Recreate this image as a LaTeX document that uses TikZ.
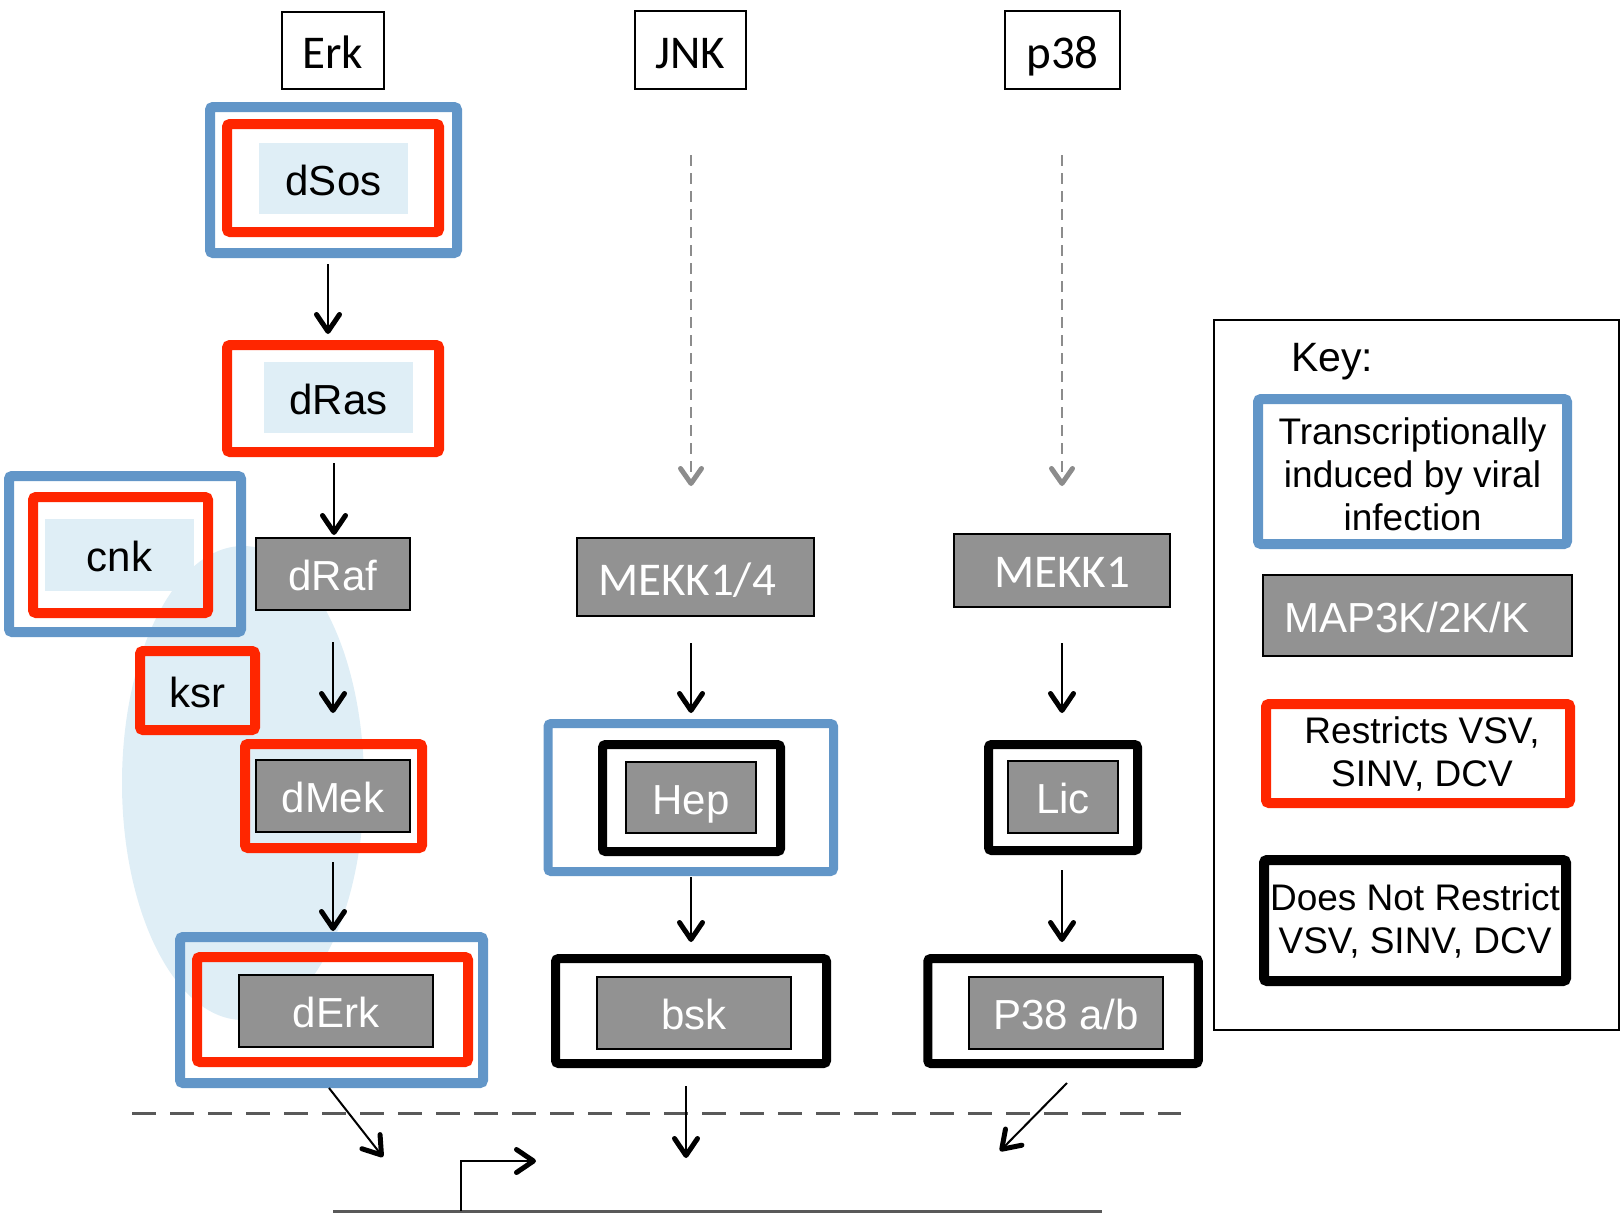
\documentclass[tikz,border=0pt]{standalone}
\usepackage{fontspec}
\setmainfont{Liberation Sans}
\newfontfamily\calib{Carlito}
\usetikzlibrary{arrows.meta}
\definecolor{kblue}{RGB}{98,150,200}
\definecolor{kred}{RGB}{255,38,0}
\definecolor{kgray}{RGB}{146,146,146}
\definecolor{klb}{RGB}{223,238,246}
\definecolor{kdash}{RGB}{140,140,140}
\definecolor{kmem}{RGB}{89,89,89}
\begin{document}
\begin{tikzpicture}[x=0.5pt,y=-0.5pt,
  box/.style={rectangle, inner sep=0pt, outer sep=0pt},
  bluebox/.style={box, draw=kblue, line width=5pt, rounded corners=1.5pt},
  redbox/.style={box, draw=kred, line width=5pt, rounded corners=1.5pt},
  blkbox/.style={box, draw=black, line width=4.5pt, rounded corners=1.5pt},
  arialtxt/.style={font=\fontsize{21pt}{25pt}\selectfont, text height=19.5pt, text depth=3pt},
  calibtxt/.style={font=\calib\fontsize{23.5pt}{28pt}\selectfont, text height=21pt, text depth=3pt},
  graybox/.style={box, fill=kgray, draw=black, line width=0.8pt, text=white, arialtxt},
  lbbox/.style={box, fill=klb, arialtxt},
  header/.style={box, draw=black, line width=0.8pt, calibtxt},
  keytext/.style={align=center, font=\fontsize{18.5pt}{21.5pt}\selectfont},
  arr/.style={line width=1pt, -{Straight Barb[length=8.5pt, width=11.5pt, line width=2.5pt 0, round]}},
  darr/.style={draw=kdash, line width=1.4pt, dash pattern=on 5.5pt off 3.5pt, -{Straight Barb[length=7.5pt, width=10.5pt, line width=2.5pt 0, round]}}
]
\useasboundingbox (0,0) rectangle (1622,1216);

% scaffold ellipse
\fill[klb] (243,783) ellipse [x radius=60.5pt, y radius=118.5pt];

% headers
\node[header, minimum width=51pt, minimum height=38.5pt] (Erk) at (333,50.5) {Erk};
\node[header, minimum width=55.5pt, minimum height=39pt] (JNK) at (690.5,50) {JNK};
\node[header, minimum width=57.5pt, minimum height=39pt] (p38) at (1062.5,50) {p38};

% Erk column
\node[bluebox, minimum width=123.5pt, minimum height=73pt] (dSosB) at (333.5,180) {};
\node[redbox, minimum width=106pt, minimum height=54pt] (dSosR) at (333,178) {};
\node[lbbox, minimum width=74.5pt, minimum height=35.5pt] (dSos) at (333.5,178.5) {dSos};

\node[redbox, minimum width=106pt, minimum height=53.5pt] (dRasR) at (333,398.5) {};
\node[lbbox, minimum width=74.5pt, minimum height=35.5pt] (dRas) at (338.5,397.5) {dRas};

\node[graybox, minimum width=77pt, minimum height=36pt] (dRaf) at (333,574) {dRaf};

\node[bluebox, minimum width=116pt, minimum height=78pt] (cnkB) at (125,554) {};
\node[redbox, minimum width=87.5pt, minimum height=58pt] (cnkR) at (120.5,555) {};
\node[lbbox, minimum width=74.5pt, minimum height=36pt] (cnk) at (119.5,555) {cnk};

\node[redbox, minimum width=57.5pt, minimum height=39.5pt, arialtxt] (ksr) at (197.5,690.5) {ksr};

\node[redbox, minimum width=88.5pt, minimum height=52pt] (dMekR) at (333.5,796) {};
\node[graybox, minimum width=77pt, minimum height=36pt] (dMek) at (333,796) {dMek};

\node[bluebox, minimum width=151.5pt, minimum height=73pt] (dErkB) at (331.5,1010) {};
\node[redbox, minimum width=135.5pt, minimum height=52.5pt] (dErkR) at (332.5,1009.5) {};
\node[graybox, minimum width=97pt, minimum height=36pt] (dErk) at (336,1011) {dErk};

% JNK column
\node[graybox, minimum width=118.5pt, minimum height=39pt, calibtxt] (MEKK14) at (695.5,577) {MEKK1/4\hspace*{8.5pt}};
\node[bluebox, line width=4.5pt, minimum width=142.75pt, minimum height=74pt] (HepB) at (690.75,797.5) {};
\node[blkbox, minimum width=89pt, minimum height=53.5pt] (HepK) at (691.5,798) {};
\node[graybox, minimum width=65pt, minimum height=35.5pt] (Hep) at (691,797.5) {Hep};
\node[blkbox, minimum width=135.5pt, minimum height=52.5pt] (bskK) at (691,1011) {};
\node[graybox, minimum width=97pt, minimum height=36pt] (bsk) at (694,1013) {bsk};

% p38 column
\node[graybox, minimum width=108pt, minimum height=36.5pt, calibtxt, text height=20pt] (MEKK1) at (1062,570.5) {MEKK1};
\node[blkbox, minimum width=74.5pt, minimum height=53pt] (LicK) at (1063,797.5) {};
\node[graybox, minimum width=55pt, minimum height=36pt] (Lic) at (1063,797) {Lic};
\node[blkbox, minimum width=135.25pt, minimum height=52.5pt] (P38K) at (1063,1011) {};
\node[graybox, minimum width=97pt, minimum height=36pt] (P38) at (1066,1013) {P38 a/b};

% arrows Erk
\draw[arr] ([shift={(-5.5,11)}]dSosB.south) -- ([shift={(-5,-11)}]dRasR.north);
\draw[arr] ([shift={(1,11)}]dRasR.south) -- ([shift={(1,-3)}]dRaf.north);
\draw[arr] ([shift={(0,32)}]dRaf.south) -- ([shift={(-0.5,-31)}]dMekR.north);
\draw[arr] ([shift={(0,14)}]dMek.south |- dMekR.south) -- ([shift={(1.5,-6)}]dErkB.north);

% arrows JNK / p38
\draw[darr] ([shift={(0.5,66)}]JNK.south) -- ([shift={(-4.5,-52)}]MEKK14.north);
\draw[darr] ([shift={(-0.5,66)}]p38.south) -- ([shift={(0,-48)}]MEKK1.north);
\draw[arr] ([shift={(-4.5,27)}]MEKK14.south) -- ([shift={(0.25,-10.5)}]HepB.north);
\draw[arr] ([shift={(0.25,5.5)}]HepB.south) -- ([shift={(0,-16.5)}]bskK.north);
\draw[arr] ([shift={(0,36)}]MEKK1.south) -- ([shift={(-1,-31.5)}]LicK.north);
\draw[arr] ([shift={(-1,19.5)}]LicK.south) -- ([shift={(-1,-16.5)}]P38K.north);

% membrane, DNA, promoter
\coordinate (memL) at (132,1113);
\coordinate (memR) at (1181,1113);
\draw[kmem, line width=1.5pt, dash pattern=on 12pt off 7pt] (memL) -- (memR);
\coordinate (dnaL) at (333,1211);
\coordinate (dnaR) at (1102,1211);
\draw[kmem, line width=1.5pt] (dnaL) -- (dnaR);
\coordinate (prom) at (461,1211);
\coordinate (promEnd) at (536,1161);
\draw[arr] (prom) |- (promEnd);

% nuclear arrows
\coordinate (nErk) at (383,1157);
\coordinate (nJNK) at (686,1158);
\coordinate (nP38) at (1000,1151);
\draw[arr] ([shift={(-2.5,5)}]dErkB.south) -- (nErk);
\draw[arr] ([shift={(-5,22.5)}]bskK.south) -- (nJNK);
\draw[arr] ([shift={(4,19.5)}]P38K.south) -- (nP38);

% key
\node[box, draw=black, line width=0.8pt, minimum width=202.5pt, minimum height=355pt] (key) at (1416.5,675) {};
\node[anchor=west, font=\fontsize{20.5pt}{24pt}\selectfont] (keylab) at (1284,362) {Key:};
\node[bluebox, minimum width=154.5pt, minimum height=72.5pt, keytext] (keyB) at (1412.5,471.5) {\rule{0pt}{16pt}Transcriptionally\\induced by viral\\infection};
\node[graybox, minimum width=154.5pt, minimum height=40.5pt] (keyG) at (1417.5,615.5) {MAP3K/2K/K\hspace*{10.5pt}};
\node[redbox, minimum width=152pt, minimum height=49.5pt, keytext] (keyR) at (1418,753.5) {\hspace*{4pt}Restricts VSV,\\\hspace*{4pt}SINV, DCV};
\node[blkbox, line width=5pt, minimum width=151pt, minimum height=60.5pt, keytext] (keyK) at (1415,920.5) {Does Not Restrict\\VSV, SINV, DCV};
\end{tikzpicture}
\end{document}
